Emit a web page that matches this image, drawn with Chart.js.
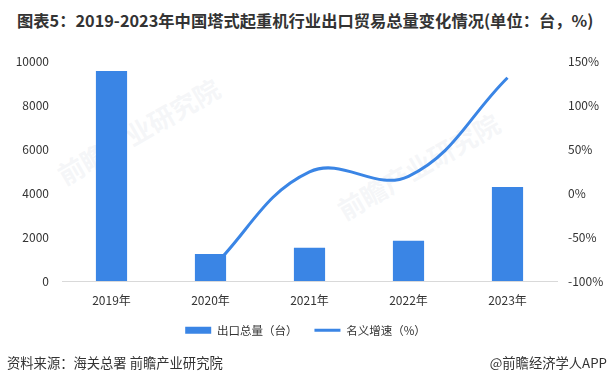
<!DOCTYPE html>
<html>
<head>
<meta charset="utf-8">
<script src="https://cdn.jsdelivr.net/npm/chart.js@4/dist/chart.umd.min.js"></script>
<style>
  html, body { margin: 0; padding: 0; background: #fff; }
  #wrap { position: relative; width: 611px; height: 384px; overflow: hidden; font-family: "Noto Sans CJK SC", "Noto Sans", sans-serif; }
  #title { position: absolute; left: 17px; top: 8px; font-size: 16.3px; font-weight: bold; color: #333; white-space: nowrap; line-height: 24px; }
  #source { position: absolute; left: 7px; top: 354px; font-size: 13.3px; color: #333; white-space: nowrap; line-height: 18px; }
  #brand { position: absolute; right: 4px; top: 354px; font-size: 13.3px; color: #333; white-space: nowrap; line-height: 18px; }
  .wm { position: absolute; font-size: 26px; font-weight: bold; color: rgba(222,226,233,0.3); white-space: nowrap; transform: rotate(-30deg); transform-origin: left top; }
  canvas { position: absolute; left: 0; top: 0; }
</style>
</head>
<body>
<div id="wrap">
  <div class="wm" style="left:50px; top:160px;">前瞻产业研究院</div>
  <div class="wm" style="left:330px; top:195px;">前瞻产业研究院</div>
  <div id="title">图表5：2019-2023年中国塔式起重机行业出口贸易总量变化情况(单位：台，%)</div>
  <canvas id="c" width="611" height="384"></canvas>
  <div id="source">资料来源：海关总署 前瞻产业研究院</div>
  <div id="brand">@前瞻经济学人APP</div>
</div>
<script>
const categories = ["2019年", "2020年", "2021年", "2022年", "2023年"];
const exportVolume = [9540, 1230, 1510, 1830, 4270];
const nominalGrowth = [null, -87, 24, 19, 131];
const leftTicks = [0, 2000, 4000, 6000, 8000, 10000];
const rightTicks = [-100, -50, 0, 50, 100, 150];

const FONT = "'Noto Sans CJK SC', 'Noto Sans', sans-serif";
const BLUE = "#3a85e5";

new Chart(document.getElementById("c"), {
  data: {
    labels: categories,
    datasets: [
      {
        type: "bar",
        label: "出口总量（台）",
        data: exportVolume,
        backgroundColor: BLUE,
        borderWidth: 0,
        yAxisID: "y",
        order: 0,
        categoryPercentage: 1,
        barPercentage: 0.315
      },
      {
        type: "line",
        label: "名义增速（%）",
        data: nominalGrowth,
        borderColor: BLUE,
        backgroundColor: BLUE,
        borderWidth: 3,
        pointRadius: 0,
        tension: 0.4,
        fill: false,
        yAxisID: "y1",
        order: 1
      }
    ]
  },
  options: {
    responsive: false,
    animation: false,
    layout: { padding: { top: 61, bottom: 38, left: 0, right: 0 } },
    plugins: {
      tooltip: { enabled: false },
      legend: {
        position: "bottom",
        labels: {
          usePointStyle: true,
          pointStyleWidth: 26,
          boxHeight: 7,
          padding: 17,
          color: "#333",
          font: { family: FONT, size: 11.5 },
          generateLabels: (chart) => chart.data.datasets.map((ds, i) => ({
            text: ds.label,
            fillStyle: ds.backgroundColor,
            strokeStyle: ds.borderColor,
            lineWidth: ds.type === "line" ? 3 : 0,
            pointStyle: ds.type === "line" ? "line" : "rect",
            hidden: false,
            datasetIndex: i,
            fontColor: "#333"
          }))
        }
      }
    },
    scales: {
      x: {
        grid: { display: false, drawTicks: false },
        border: { display: true, color: "#d9d9d9", width: 1 },
        ticks: { color: "#333", font: { family: FONT, size: 12 }, padding: 12, maxRotation: 0 },
        afterFit: (s) => { s.height = 26.5; }
      },
      y: {
        position: "left",
        min: 0, max: 10000,
        afterBuildTicks: (s) => { s.ticks = leftTicks.map(v => ({ value: v })); },
        grid: { display: false, drawTicks: false },
        border: { display: false },
        ticks: { color: "#333", font: { family: FONT, size: 12 }, padding: 13, callback: (v) => String(v) },
        afterFit: (s) => { s.width = 62; }
      },
      y1: {
        position: "right",
        min: -100, max: 150,
        afterBuildTicks: (s) => { s.ticks = rightTicks.map(v => ({ value: v })); },
        grid: { display: false, drawTicks: false },
        border: { display: false },
        ticks: { color: "#333", font: { family: FONT, size: 12 }, padding: 11, callback: (v) => v + "%" },
        afterFit: (s) => { s.width = 54; }
      }
    }
  }
});
</script>
</body>
</html>
